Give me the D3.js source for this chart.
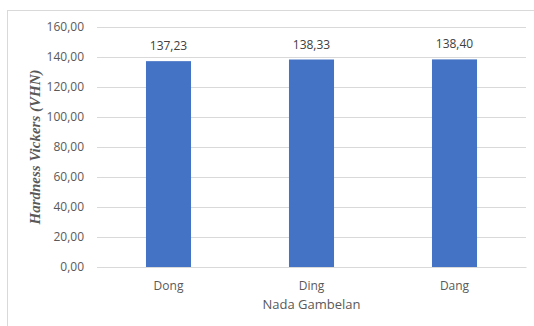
<!DOCTYPE html>
<html><head><meta charset="utf-8">
<script src="https://cdn.jsdelivr.net/npm/d3@7"></script>
<style>body{margin:0;background:#fff}svg{display:block}</style>
</head><body>
<svg id="c" width="534" height="326"></svg>
<script>
const categories = ["Dong", "Ding", "Dang"];
const values = [137.23, 138.33, 138.40];
const yTicks = [0, 20, 40, 60, 80, 100, 120, 140, 160];
const yTitle = "Hardness Vickers (VHN)";
const xTitle = "Nada Gambelan";

(function () {
const svg = d3.select("#c");
const fmt = v => d3.format(".2f")(v).replace(".", ",");
const mL = 97, mR = 526, mT = 27, mB = 267;

svg.append("rect").attr("x", 7.5).attr("y", 10.5).attr("width", 540).attr("height", 330)
  .attr("fill", "#fff").attr("stroke", "#d9d9d9");

const x = d3.scaleBand().domain(categories).range([mL, mR]).paddingInner(0.685).paddingOuter(0.3425);
const y = d3.scaleLinear().domain([0, 160]).range([mB, mT]);

const yAxis = svg.append("g").attr("transform", `translate(${mL},0)`)
  .call(d3.axisLeft(y).tickValues(yTicks).tickFormat(fmt).tickSize(-(mR - mL)).tickPadding(13));
yAxis.select(".domain").remove();
yAxis.selectAll(".tick line").attr("stroke", "#d9d9d9");
yAxis.selectAll(".tick text").attr("fill", "#595959").style("font-family", "'Open Sans', sans-serif").style("font-size", "12px");

svg.selectAll(".bar").data(values).enter().append("rect")
  .attr("x", (d, i) => x(categories[i])).attr("width", x.bandwidth())
  .attr("y", d => y(d)).attr("height", d => y(0) - y(d)).attr("fill", "#4472C4");

svg.selectAll(".vl").data(values).enter().append("text")
  .attr("x", (d, i) => x(categories[i]) + x.bandwidth() / 2).attr("y", d => y(d) - 11)
  .attr("text-anchor", "middle").attr("fill", "#404040")
  .style("font-family", "'Open Sans', sans-serif").style("font-size", "12px").text(fmt);

const xAxis = svg.append("g").attr("transform", `translate(0,${mB})`)
  .call(d3.axisBottom(x).tickSize(0).tickPadding(14));
xAxis.select(".domain").attr("stroke", "#d9d9d9");
xAxis.selectAll(".tick text").attr("fill", "#595959").style("font-family", "'Open Sans', sans-serif").style("font-size", "12px");

svg.append("text").attr("x", (mL + mR) / 2).attr("y", 309).attr("text-anchor", "middle")
  .attr("fill", "#595959").style("font-family", "'Open Sans', sans-serif").style("font-size", "13px").text(xTitle);

svg.append("text").attr("transform", `translate(40,${(mT + mB) / 2}) rotate(-90)`)
  .attr("text-anchor", "middle").attr("fill", "#595959")
  .style("font-family", "'Liberation Serif', serif").style("font-style", "italic").style("font-weight", "bold")
  .style("font-size", "15px").text(yTitle);
})();
</script>
</body></html>
